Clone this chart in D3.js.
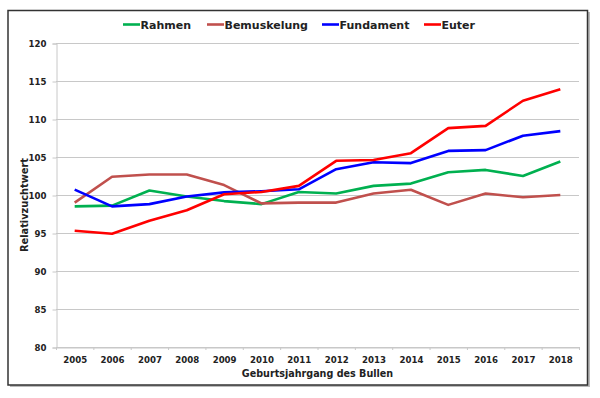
<!DOCTYPE html>
<html><head><meta charset="utf-8">
<script src="https://cdn.jsdelivr.net/npm/d3@7"></script>
<style>body{margin:0;background:#fff}svg{display:block}text{font-family:"DejaVu Sans",Verdana,sans-serif;font-weight:bold;fill:#222}</style>
</head><body>
<svg id="c" width="600" height="398"></svg>
<script>
const years = [2005,2006,2007,2008,2009,2010,2011,2012,2013,2014,2015,2016,2017,2018];
const rahmen      = [98.5,98.6,100.6,99.8,99.2,98.8,100.4,100.2,101.2,101.5,103.0,103.3,102.5,104.4];
const bemuskelung = [99.0,102.4,102.7,102.7,101.3,98.9,99.0,99.0,100.2,100.7,98.7,100.2,99.7,100.0];
const fundament   = [100.7,98.5,98.8,99.8,100.35,100.5,100.75,103.4,104.3,104.2,105.8,105.9,107.8,108.4];
const euter       = [95.3,94.9,96.6,98.0,100.1,100.4,101.2,104.5,104.6,105.5,108.8,109.1,112.4,113.9];
const seriesNames = ["Rahmen","Bemuskelung","Fundament","Euter"];
const seriesColors = ["#00b050","#c0504d","#0000ff","#ff0000"];
const yTicks = [80,85,90,95,100,105,110,115,120];

const svg = d3.select("#c");
const data = [rahmen, bemuskelung, fundament, euter];

// frame
svg.append("rect").attr("x",10).attr("y",12).attr("width",580).attr("height",375).attr("fill","#bbb");
svg.append("rect").attr("x",8).attr("y",10.5).attr("width",579.5).attr("height",374.5).attr("fill","#fff").attr("stroke","#333").attr("stroke-width",1.5);

const pL=56, pR=579, pT=43, pB=347;
const x = d3.scaleBand().domain(years).range([pL,pR]);
const y = d3.scaleLinear().domain([80,120]).range([pB,pT]);

// gridlines
svg.append("g").selectAll("line").data(yTicks).join("line")
  .attr("x1",pL).attr("x2",pR).attr("y1",d=>y(d)+0.5).attr("y2",d=>y(d)+0.5)
  .attr("stroke","#c8c8c8").attr("stroke-width",1);

// y axis
const ya = svg.append("g").attr("transform",`translate(${pL+0.5},0.5)`)
  .call(d3.axisLeft(y).tickValues(yTicks).tickSize(4).tickPadding(6));
ya.selectAll("path,line").attr("stroke","#c8c8c8");
ya.selectAll("text").attr("font-size","8.6px").attr("font-family","DejaVu Sans").attr("font-weight","bold").attr("fill","#222");

// x axis
const xa = svg.append("g").attr("transform",`translate(0.5,${pB+0.5})`)
  .call(d3.axisBottom(x).tickSize(0).tickPadding(9));
xa.select("path").attr("stroke","#c8c8c8");
xa.selectAll("text").attr("font-size","8.6px").attr("font-family","DejaVu Sans").attr("font-weight","bold").attr("fill","#222");
// band boundary ticks
svg.append("g").selectAll("line").data(years.concat([null])).join("line")
  .attr("x1",(d,i)=>pL+i*x.step()+0.5).attr("x2",(d,i)=>pL+i*x.step()+0.5)
  .attr("y1",pB).attr("y2",pB+3).attr("stroke","#c8c8c8");

// lines
const line = d3.line().x((d,i)=>x(years[i])+x.bandwidth()/2).y(d=>y(d));
svg.append("g").selectAll("path").data(data).join("path")
  .attr("d",line).attr("fill","none")
  .attr("stroke",(d,i)=>seriesColors[i]).attr("stroke-width",2.6)
  .attr("stroke-linejoin","round");

// legend
const legX = [123,207,322,424];
const lg = svg.append("g");
seriesNames.forEach((n,i)=>{
  lg.append("line").attr("x1",legX[i]).attr("x2",legX[i]+17).attr("y1",24.5).attr("y2",24.5)
    .attr("stroke",seriesColors[i]).attr("stroke-width",2.6);
  lg.append("text").attr("x",legX[i]+17.5).attr("y",28.8).attr("font-size","11px").text(n);
});

// axis titles
svg.append("text").attr("x",(pL+pR)/2).attr("y",377).attr("text-anchor","middle")
  .attr("font-size","9.6px").text("Geburtsjahrgang des Bullen");
svg.append("text").attr("transform","translate(27.5,205) rotate(-90)").attr("text-anchor","middle")
  .attr("font-size","9.8px").text("Relativzuchtwert");
</script>
</body></html>
